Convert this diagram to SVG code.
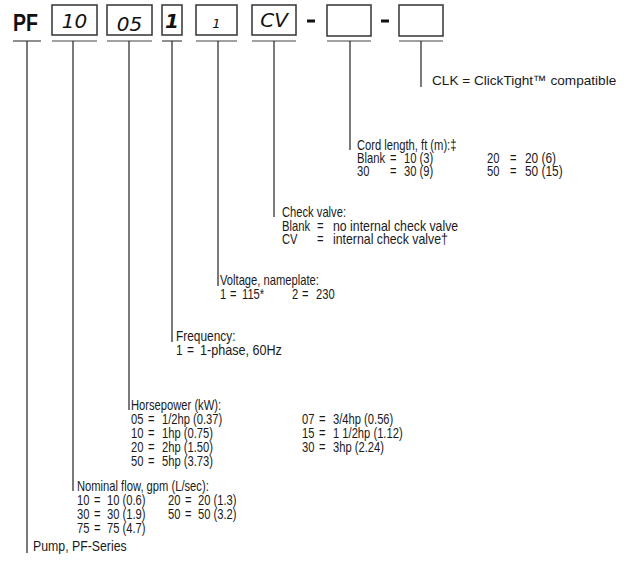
<svg xmlns="http://www.w3.org/2000/svg" width="636" height="564" viewBox="0 0 636 564">
<style>
.box{fill:#fff;stroke:#333;stroke-width:1.5}
.ul{stroke:#444;stroke-width:1.2}
.ln{stroke:#222;stroke-width:1.2;fill:none}
.dash{fill:#111}
.t{font-family:"Liberation Sans",Arial,sans-serif;font-size:14px;fill:#1a1a1a}
.clk{font-family:"Liberation Sans",Arial,sans-serif;font-size:13.6px;fill:#1a1a1a}
.hw{font-family:"DejaVu Sans",sans-serif;font-style:italic;font-size:20px;fill:#111}
.pf{font-family:"Liberation Sans",Arial,sans-serif;font-weight:bold;font-size:23px;fill:#111}
</style>
<rect width="636" height="564" fill="#fff"/>
<g id="code">
  <g id="pf"><text class="pf" transform="translate(13 31) scale(0.85 1)">PF</text><line class="ul" x1="13" y1="41" x2="41" y2="41"/></g>
  <g id="flow-box"><rect class="box" x="52" y="5" width="45" height="30"/><text class="hw" x="74.5" y="28" text-anchor="middle">10</text><line class="ul" x1="52" y1="41" x2="97" y2="41"/></g>
  <g id="hp-box"><rect class="box" x="107" y="5" width="45" height="30"/><text class="hw" x="129.5" y="31" text-anchor="middle">05</text><line class="ul" x1="107" y1="41" x2="152" y2="41"/></g>
  <g id="freq-box"><rect class="box" x="162" y="5" width="20" height="30"/><text class="hw" x="172" y="28" text-anchor="middle" style="font-weight:bold">1</text><line class="ul" x1="162" y1="41" x2="182" y2="41"/></g>
  <g id="volt-box"><rect class="box" x="196" y="5" width="41" height="30"/><text class="hw" x="216.5" y="28" text-anchor="middle" style="font-size:13px">1</text><line class="ul" x1="196" y1="41" x2="237" y2="41"/></g>
  <g id="cv-box"><rect class="box" x="252" y="5" width="44" height="30"/><text class="hw" x="274" y="27" text-anchor="middle">CV</text><line class="ul" x1="252" y1="41" x2="296" y2="41"/></g>
  <rect class="dash" x="307" y="19.5" width="8" height="3"/>
  <g id="cord-box"><rect class="box" x="327" y="5" width="44" height="31"/><line class="ul" x1="327" y1="41" x2="371" y2="41"/></g>
  <rect class="dash" x="381" y="19.5" width="8" height="3"/>
  <g id="clk-box"><rect class="box" x="399" y="5" width="44" height="31"/><line class="ul" x1="399" y1="41" x2="443" y2="41"/></g>
</g>
<g id="connectors">
  <line class="ln" x1="27" y1="41" x2="27" y2="553"/>
  <line class="ln" x1="73" y1="41" x2="73" y2="491"/>
  <line class="ln" x1="129" y1="41" x2="129" y2="410"/>
  <line class="ln" x1="172" y1="41" x2="172" y2="342"/>
  <line class="ln" x1="218" y1="41" x2="218" y2="286"/>
  <line class="ln" x1="274" y1="41" x2="274" y2="217"/>
  <line class="ln" x1="350" y1="41" x2="350" y2="150"/>
  <line class="ln" x1="421" y1="41" x2="421" y2="87"/>
</g>
<g id="clk-label"><text class="clk" x="432" y="85">CLK = ClickTight™ compatible</text></g>
<g id="cord-label">
  <g transform="translate(357 0) scale(0.8 1)">
    <text class="t" x="0" y="150">Cord length, ft (m):‡</text>
    <text class="t" y="163"><tspan x="0">Blank</tspan><tspan x="41.25">=</tspan><tspan x="58.75">10 (3)</tspan><tspan x="162.5">20</tspan><tspan x="191.25">=</tspan></text>
    <text class="t" y="176"><tspan x="0">30</tspan><tspan x="41.25">=</tspan><tspan x="58.75">30 (9)</tspan><tspan x="162.5">50</tspan><tspan x="191.25">=</tspan></text>
  </g>
  <g transform="translate(525 0) scale(0.85 1)">
    <text class="t" x="0" y="163">20 (6)</text>
    <text class="t" x="0" y="176">50 (15)</text>
  </g>
</g>
<g id="cv-label">
  <g transform="translate(282 0) scale(0.8 1)">
    <text class="t" x="0" y="217">Check valve:</text>
    <text class="t" y="231"><tspan x="0">Blank</tspan><tspan x="43.75">=</tspan></text>
    <text class="t" y="244"><tspan x="0">CV</tspan><tspan x="43.75">=</tspan></text>
  </g>
  <g transform="translate(333 0) scale(0.88 1)">
    <text class="t" x="0" y="231">no internal check valve</text>
    <text class="t" x="0" y="244">internal check valve†</text>
  </g>
</g>
<g id="volt-label" transform="translate(220 0) scale(0.8 1)">
  <text class="t" x="0" y="285">Voltage, nameplate:</text>
  <text class="t" y="299"><tspan x="0">1</tspan><tspan x="12.5">=</tspan><tspan x="27.5">115*</tspan><tspan x="90">2</tspan><tspan x="102.5">=</tspan><tspan x="120">230</tspan></text>
</g>
<g id="freq-label">
  <g transform="translate(176 0) scale(0.85 1)">
    <text class="t" x="0" y="341">Frequency:</text>
    <text class="t" y="355"><tspan x="0">1</tspan><tspan x="12.9">=</tspan></text>
  </g>
  <text class="t" transform="translate(200 355) scale(0.9 1)">1-phase, 60Hz</text>
</g>
<g id="hp-label" transform="translate(131 0) scale(0.8 1)">
  <text class="t" x="0" y="410">Horsepower (kW):</text>
  <text class="t" y="424"><tspan x="0">05</tspan><tspan x="21.25">=</tspan><tspan x="38.75">1/2hp (0.37)</tspan><tspan x="213.75">07</tspan><tspan x="235">=</tspan><tspan x="252.5">3/4hp (0.56)</tspan></text>
  <text class="t" y="438"><tspan x="0">10</tspan><tspan x="21.25">=</tspan><tspan x="38.75">1hp (0.75)</tspan><tspan x="213.75">15</tspan><tspan x="235">=</tspan><tspan x="252.5">1 1/2hp (1.12)</tspan></text>
  <text class="t" y="452"><tspan x="0">20</tspan><tspan x="21.25">=</tspan><tspan x="38.75">2hp (1.50)</tspan><tspan x="213.75">30</tspan><tspan x="235">=</tspan><tspan x="252.5">3hp (2.24)</tspan></text>
  <text class="t" y="466"><tspan x="0">50</tspan><tspan x="21.25">=</tspan><tspan x="38.75">5hp (3.73)</tspan></text>
</g>
<g id="flow-label" transform="translate(77 0) scale(0.8 1)">
  <text class="t" x="0" y="491">Nominal flow, gpm (L/sec):</text>
  <text class="t" y="505"><tspan x="0">10</tspan><tspan x="21.25">=</tspan><tspan x="37.5">10 (0.6)</tspan><tspan x="113.75">20</tspan><tspan x="135">=</tspan><tspan x="151.25">20 (1.3)</tspan></text>
  <text class="t" y="519"><tspan x="0">30</tspan><tspan x="21.25">=</tspan><tspan x="37.5">30 (1.9)</tspan><tspan x="113.75">50</tspan><tspan x="135">=</tspan><tspan x="151.25">50 (3.2)</tspan></text>
  <text class="t" y="533"><tspan x="0">75</tspan><tspan x="21.25">=</tspan><tspan x="37.5">75 (4.7)</tspan></text>
</g>
<g id="pf-label"><text class="t" transform="translate(33 551) scale(0.88 1)">Pump, PF-Series</text></g>
</svg>
